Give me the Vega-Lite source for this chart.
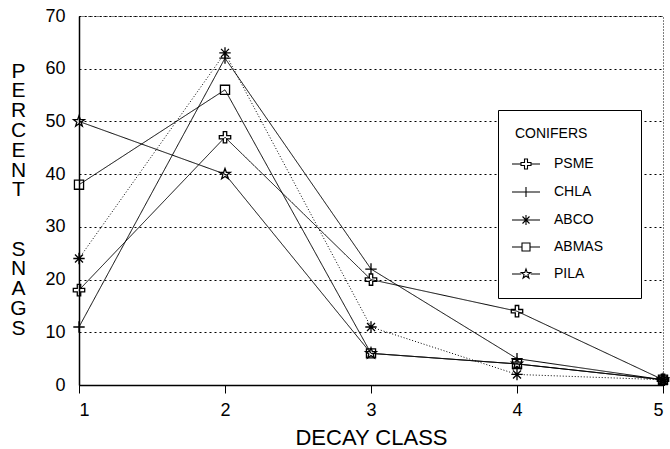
{
  "$schema": "https://vega.github.io/schema/vega-lite/v6.json",
  "width": 584,
  "height": 369,
  "autosize": {"type": "none"},
  "padding": {"left": 79, "top": 16, "right": 7, "bottom": 64},
  "background": "white",
  "config": {
    "font": "Liberation Sans",
    "view": {"stroke": "black", "strokeDash": [1, 2], "strokeWidth": 1}
  },
  "data": {
    "values": [
      {"species": "PSME", "decay": 1, "pct": 18},
      {"species": "PSME", "decay": 2, "pct": 47},
      {"species": "PSME", "decay": 3, "pct": 20},
      {"species": "PSME", "decay": 4, "pct": 14},
      {"species": "PSME", "decay": 5, "pct": 1},
      {"species": "CHLA", "decay": 1, "pct": 11},
      {"species": "CHLA", "decay": 2, "pct": 62},
      {"species": "CHLA", "decay": 3, "pct": 22},
      {"species": "CHLA", "decay": 4, "pct": 5},
      {"species": "CHLA", "decay": 5, "pct": 1},
      {"species": "ABCO", "decay": 1, "pct": 24},
      {"species": "ABCO", "decay": 2, "pct": 63},
      {"species": "ABCO", "decay": 3, "pct": 11},
      {"species": "ABCO", "decay": 4, "pct": 2},
      {"species": "ABCO", "decay": 5, "pct": 1},
      {"species": "ABMAS", "decay": 1, "pct": 38},
      {"species": "ABMAS", "decay": 2, "pct": 56},
      {"species": "ABMAS", "decay": 3, "pct": 6},
      {"species": "ABMAS", "decay": 4, "pct": 4},
      {"species": "ABMAS", "decay": 5, "pct": 1},
      {"species": "PILA", "decay": 1, "pct": 50},
      {"species": "PILA", "decay": 2, "pct": 40},
      {"species": "PILA", "decay": 3, "pct": 6},
      {"species": "PILA", "decay": 4, "pct": 4},
      {"species": "PILA", "decay": 5, "pct": 1}
    ]
  },
  "encoding": {
    "x": {
      "field": "decay", "type": "quantitative",
      "scale": {"domain": [1, 5], "nice": false},
      "axis": {
        "title": "DECAY CLASS", "values": [1, 2, 3, 4, 5], "format": "d",
        "grid": false, "domainColor": "black", "domainWidth": 1.5,
        "tickColor": "black", "tickSize": 8, "labelPadding": 8,
        "labelFontSize": 18, "labelColor": "black",
        "titleFontSize": 22, "titleFontWeight": "normal", "titleColor": "black", "titlePadding": 8
      }
    }
  },
  "layer": [
    {
      "mark": {"type": "line", "color": "black", "strokeWidth": 1},
      "encoding": {
        "y": {
          "field": "pct", "type": "quantitative",
          "scale": {"domain": [0, 70], "nice": false},
          "axis": {
            "title": ["P", "E", "R", "C", "E", "N", "T"],
            "titleAngle": 0, "titleAlign": "center", "titleBaseline": "alphabetic",
            "titleX": -61, "titleY": 61, "titleLineHeight": 19.8,
            "titleFontSize": 21, "titleFontWeight": "normal", "titleColor": "black",
            "values": [0, 10, 20, 30, 40, 50, 60, 70],
            "grid": true, "gridColor": "black", "gridDash": [2, 3], "gridWidth": 1,
            "domainColor": "black", "domainWidth": 1.5,
            "ticks": false, "labelPadding": 14,
            "labelFontSize": 18, "labelColor": "black"
          }
        },
        "detail": {"field": "species"},
        "strokeDash": {
          "condition": {"test": "datum.species === 'ABCO'", "value": [1, 2]},
          "value": [1, 0]
        }
      }
    },
    {
      "mark": {"type": "point", "filled": false, "stroke": "black", "strokeWidth": 1.3, "size": 130, "opacity": 1},
      "encoding": {
        "y": {"field": "pct", "type": "quantitative", "axis": null},
        "shape": {
          "field": "species", "type": "nominal",
          "scale": {
            "domain": ["PSME", "CHLA", "ABCO", "ABMAS", "PILA"],
            "range": [
              "M-0.3,-1L0.3,-1L0.3,-0.3L1,-0.3L1,0.3L0.3,0.3L0.3,1L-0.3,1L-0.3,0.3L-1,0.3L-1,-0.3L-0.3,-0.3Z",
              "M-1,0L1,0M0,-1L0,1",
              "M-1,0L1,0M0,-1L0,1M-0.7,-0.7L0.7,0.7M-0.7,0.7L0.7,-0.7",
              "M-0.8,-0.8L0.8,-0.8L0.8,0.8L-0.8,0.8Z",
              "M0,-1L0.235,-0.324L0.951,-0.309L0.38,0.124L0.588,0.809L0,0.4L-0.588,0.809L-0.38,0.124L-0.951,-0.309L-0.235,-0.324Z"
            ]
          },
          "legend": null
        }
      }
    },
    {
      "mark": {"type": "point", "filled": false, "stroke": "black", "strokeWidth": 1.2, "size": 100, "opacity": 0},
      "encoding": {
        "y": {
          "field": "pct", "type": "quantitative",
          "axis": {
            "orient": "right",
            "title": ["S", "N", "A", "G", "S"],
            "titleAngle": 0, "titleAlign": "center", "titleBaseline": "alphabetic",
            "titleX": -645, "titleY": 239, "titleLineHeight": 19.8,
            "titleFontSize": 21, "titleFontWeight": "normal", "titleColor": "black",
            "labels": false, "ticks": false, "domain": false, "grid": false
          }
        },
        "shape": {
          "field": "species", "type": "nominal",
          "scale": {
            "domain": ["PSME", "CHLA", "ABCO", "ABMAS", "PILA"],
            "range": [
              "M-2.8,0L-1,0M1,0L2.8,0M-0.3,-1L0.3,-1L0.3,-0.3L1,-0.3L1,0.3L0.3,0.3L0.3,1L-0.3,1L-0.3,0.3L-1,0.3L-1,-0.3L-0.3,-0.3Z",
              "M-2.8,0L2.8,0M0,-1L0,1",
              "M-2.8,0L2.8,0M0,-1L0,1M-0.7,-0.7L0.7,0.7M-0.7,0.7L0.7,-0.7",
              "M-2.8,0L-0.8,0M0.8,0L2.8,0M-0.8,-0.8L0.8,-0.8L0.8,0.8L-0.8,0.8Z",
              "M-2.8,0L-0.95,0M0.95,0L2.8,0M0,-1L0.235,-0.324L0.951,-0.309L0.38,0.124L0.588,0.809L0,0.4L-0.588,0.809L-0.38,0.124L-0.951,-0.309L-0.235,-0.324Z"
            ]
          },
          "legend": {
            "title": "CONIFERS", "orient": "none", "legendX": 419, "legendY": 94,
            "strokeColor": "black", "fillColor": "white", "padding": 17,
            "titleFontSize": 14, "titleFontWeight": "normal", "titleColor": "black", "titlePadding": 16,
            "labelFontSize": 14, "labelColor": "black", "labelOffset": 21,
            "labelExpr": "datum.label + '\u2800\u2800'",
            "symbolOffset": 4, "symbolSize": 100, "symbolStrokeColor": "black", "symbolStrokeWidth": 1.1,
            "symbolFillColor": "transparent", "symbolOpacity": 1, "rowPadding": 12
          }
        }
      }
    }
  ],
  "resolve": {"scale": {"shape": "independent"}, "axis": {"y": "independent"}}
}
